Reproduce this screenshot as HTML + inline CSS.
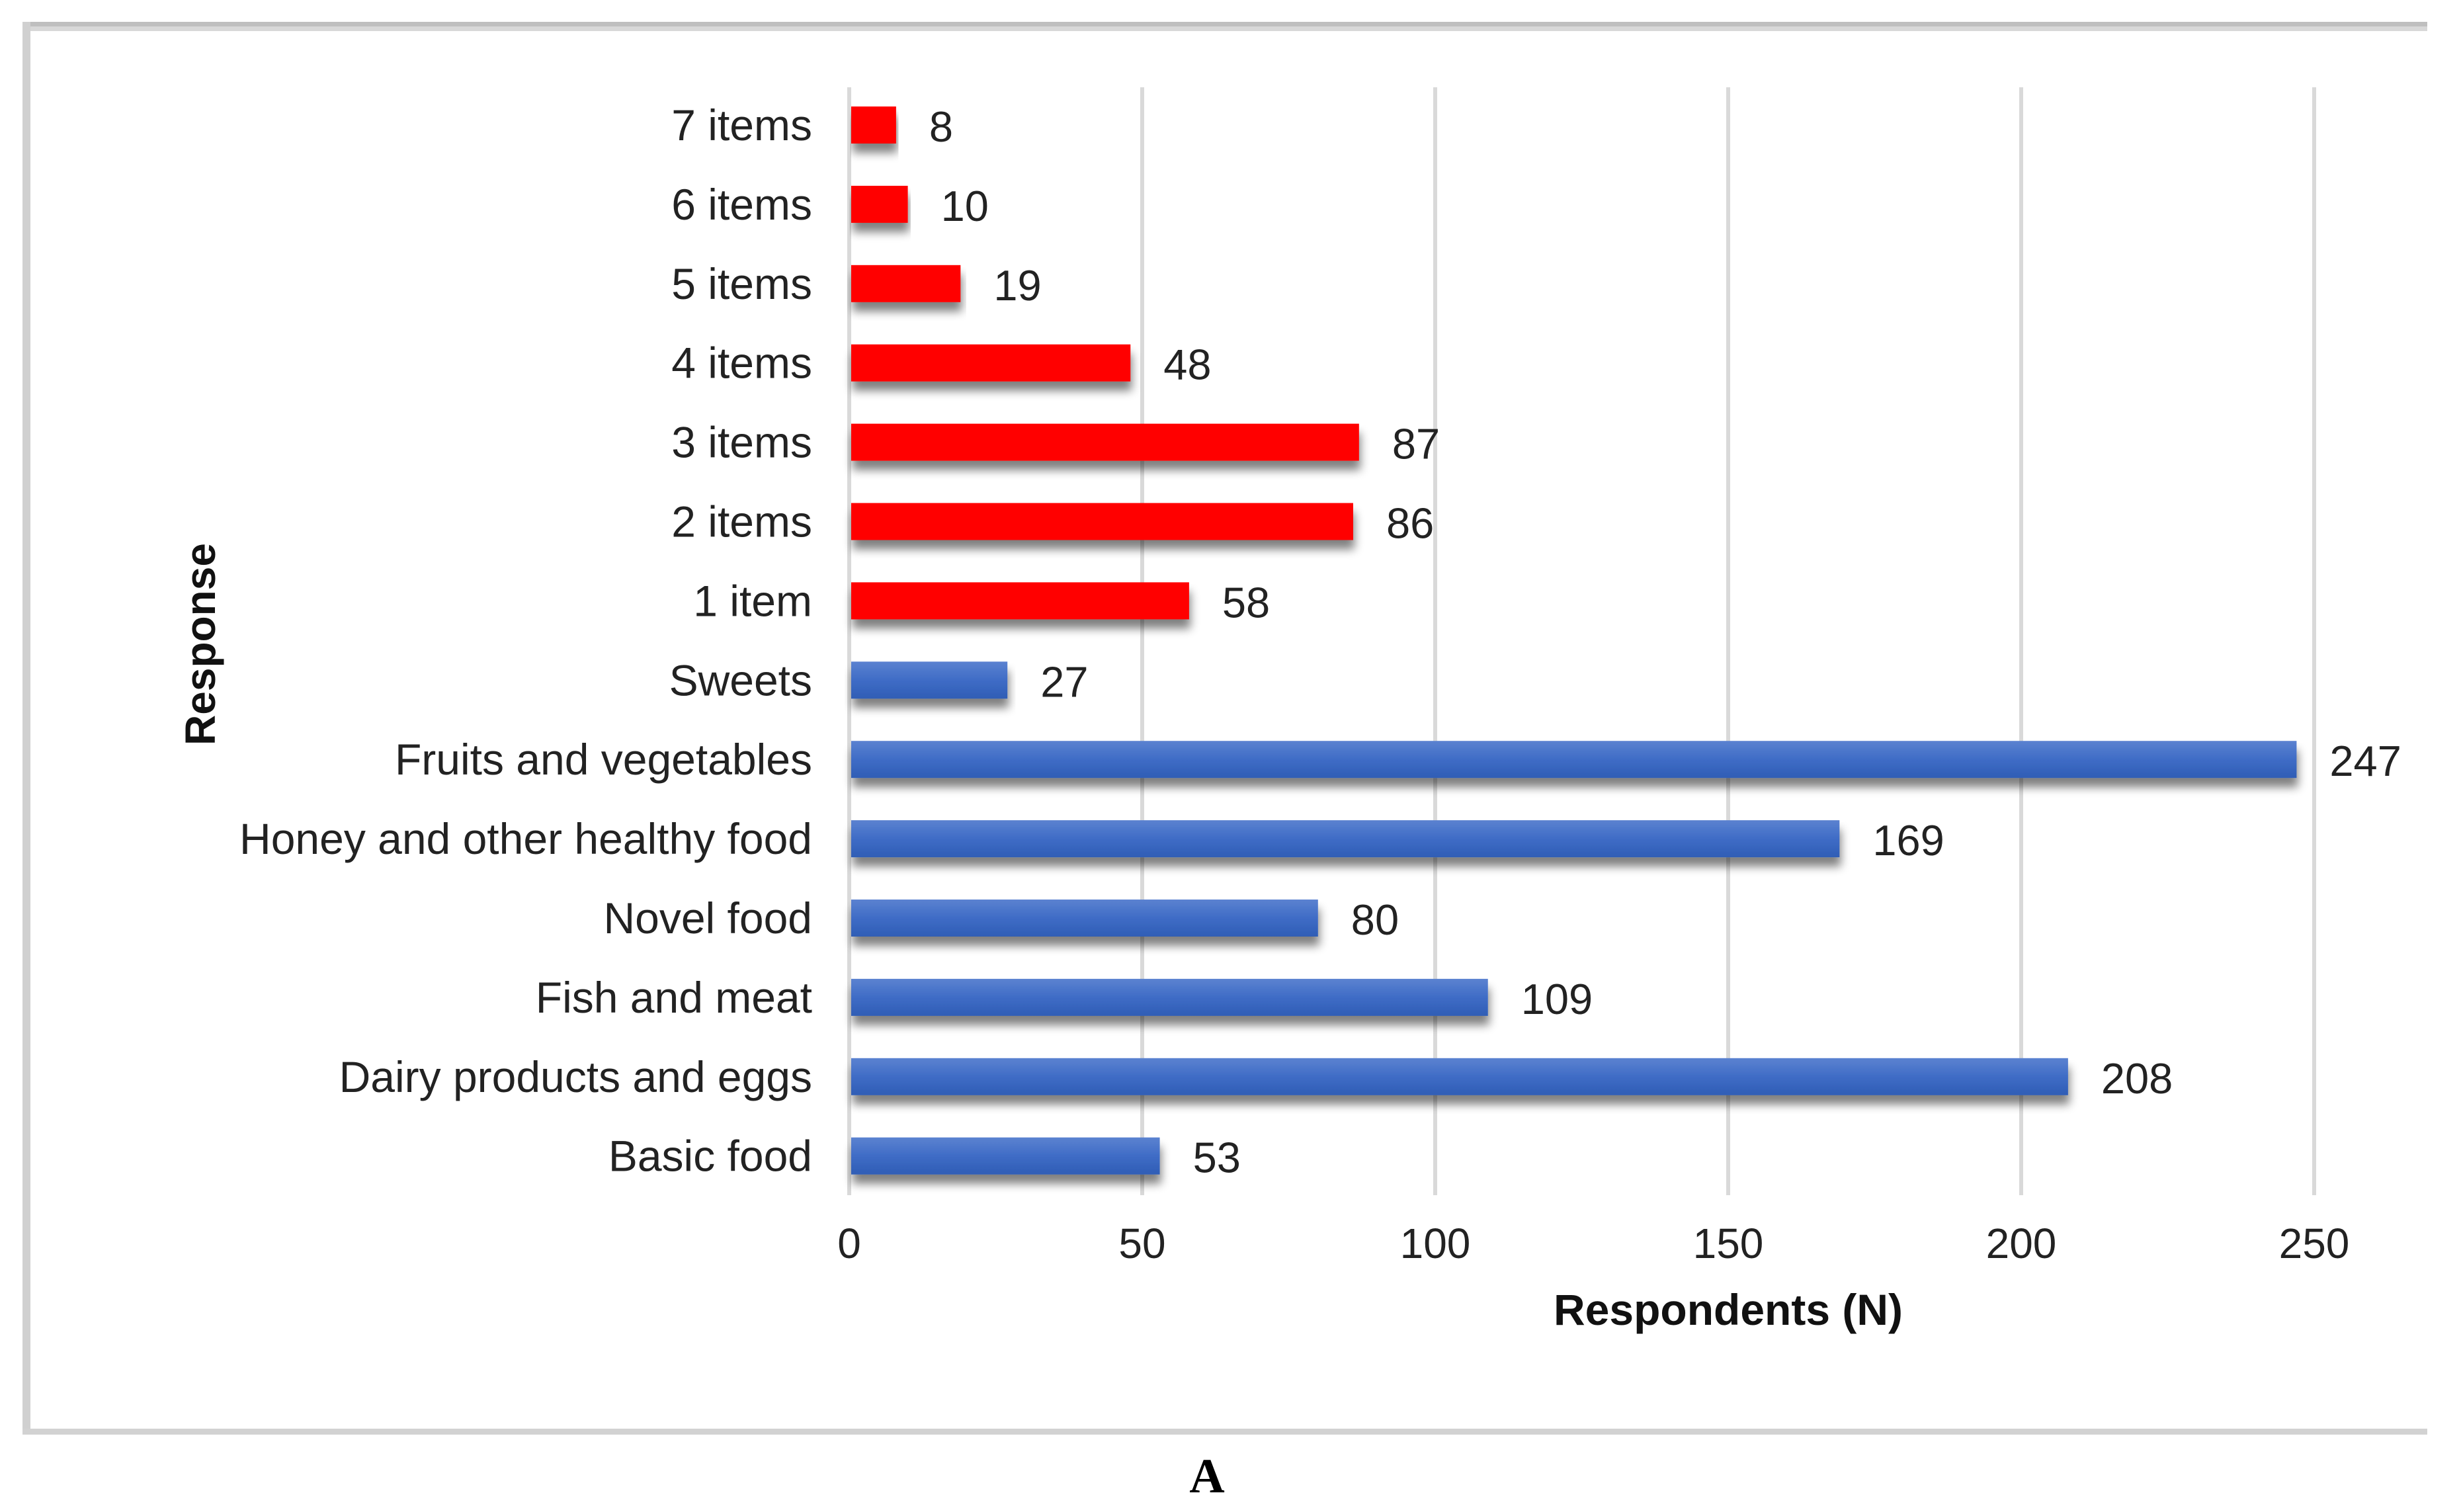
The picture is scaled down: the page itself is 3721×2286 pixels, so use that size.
<!DOCTYPE html>
<html><head><meta charset="utf-8"><style>
html,body{margin:0;padding:0;background:#fff;}
svg{display:block;font-family:"Liberation Sans",Arial,sans-serif;}
</style></head><body>
<svg id="chart" width="3721" height="2286" viewBox="0 0 3721 2286" xmlns="http://www.w3.org/2000/svg">
<defs>
<linearGradient id="blueGrad" x1="0" y1="0" x2="0" y2="1">
<stop offset="0" stop-color="#5b82d0"/><stop offset="0.5" stop-color="#3f6cc6"/><stop offset="1" stop-color="#2f5db5"/>
</linearGradient>
<filter id="shadow" x="-5%" y="-20%" width="110%" height="180%">
<feGaussianBlur in="SourceAlpha" stdDeviation="7"/><feOffset dx="2" dy="14"/>
<feComponentTransfer><feFuncA type="linear" slope="0.5"/></feComponentTransfer>
<feMerge><feMergeNode/><feMergeNode in="SourceGraphic"/></feMerge>
</filter>
</defs>
<rect x="36" y="33" width="3634" height="14" fill="#d8d8d8"/>
<rect x="36" y="33" width="3634" height="7" fill="#bfbfbf"/>
<rect x="34" y="33" width="12" height="2135" fill="#d0d0d0"/>
<rect x="34" y="2160" width="3636" height="9" fill="#d2d2d2"/>
<g id="grid"></g>
<g id="bars"></g>
<g id="labels"></g>
<text x="2613" y="2003" text-anchor="middle" font-size="66" font-weight="bold" fill="#111">Respondents (N)</text>
<text transform="translate(325,974) rotate(-90)" text-anchor="middle" font-size="64" font-weight="bold" fill="#111">Response</text>
<text x="1825" y="2256" text-anchor="middle" font-size="74" font-weight="bold" font-family="Liberation Serif, serif" fill="#000">A</text>
</svg>
<script>
const categories = ["7 items","6 items","5 items","4 items","3 items","2 items","1 item","Sweets","Fruits and vegetables","Honey and other healthy food","Novel food","Fish and meat","Dairy products and eggs","Basic food"];
const values = [8,10,19,48,87,86,58,27,247,169,80,109,208,53];
const seriesGroup = ["red","red","red","red","red","red","red","blue","blue","blue","blue","blue","blue","blue"];
const xTicks = [0,50,100,150,200,250];

const NS = "http://www.w3.org/2000/svg";
const x0 = 1284, pxPerUnit = 8.86, yTop = 189, rowStep = 119.9, barH = 56;
const gridTop = 132, gridBottom = 1807;
function xScale(v){ return x0 + v * pxPerUnit; }
function yScale(i){ return yTop + i * rowStep; }
function mk(tag, attrs){ const e = document.createElementNS(NS, tag); for (const k in attrs) e.setAttribute(k, attrs[k]); return e; }

const grid = document.getElementById('grid');
const bars = document.getElementById('bars');
const labels = document.getElementById('labels');

xTicks.forEach(t => {
  const gl = mk('line', {x1: xScale(t), x2: xScale(t), y1: gridTop, y2: gridBottom, stroke: '#d9d9d9', 'stroke-width': 6});
  
  
  grid.appendChild(gl);
  const tl = mk('text', {x: xScale(t), y: 1902, 'text-anchor': 'middle', 'font-size': 64, fill: '#222'});
  tl.textContent = t;
  
  
  labels.appendChild(tl);
});

categories.forEach((c, i) => {
  const cy = yScale(i);
  const r = mk('rect', {x: x0 + 3, y: cy - barH/2, width: Math.max(0, xScale(values[i]) - x0 - 3), height: barH,
    fill: seriesGroup[i] === 'red' ? '#ff0000' : 'url(#blueGrad)', filter: 'url(#shadow)'});
  
  
  bars.appendChild(r);
  const cl = mk('text', {x: 1228, y: cy + 23, 'text-anchor': 'end', 'font-size': 66, fill: '#222'});
  cl.textContent = c;
  
  
  labels.appendChild(cl);
  const vl = mk('text', {x: xScale(values[i]) + 50, y: cy + 25, 'font-size': 65, fill: '#222'});
  vl.textContent = values[i];
  
  
  labels.appendChild(vl);
});
</script>
</body></html>
